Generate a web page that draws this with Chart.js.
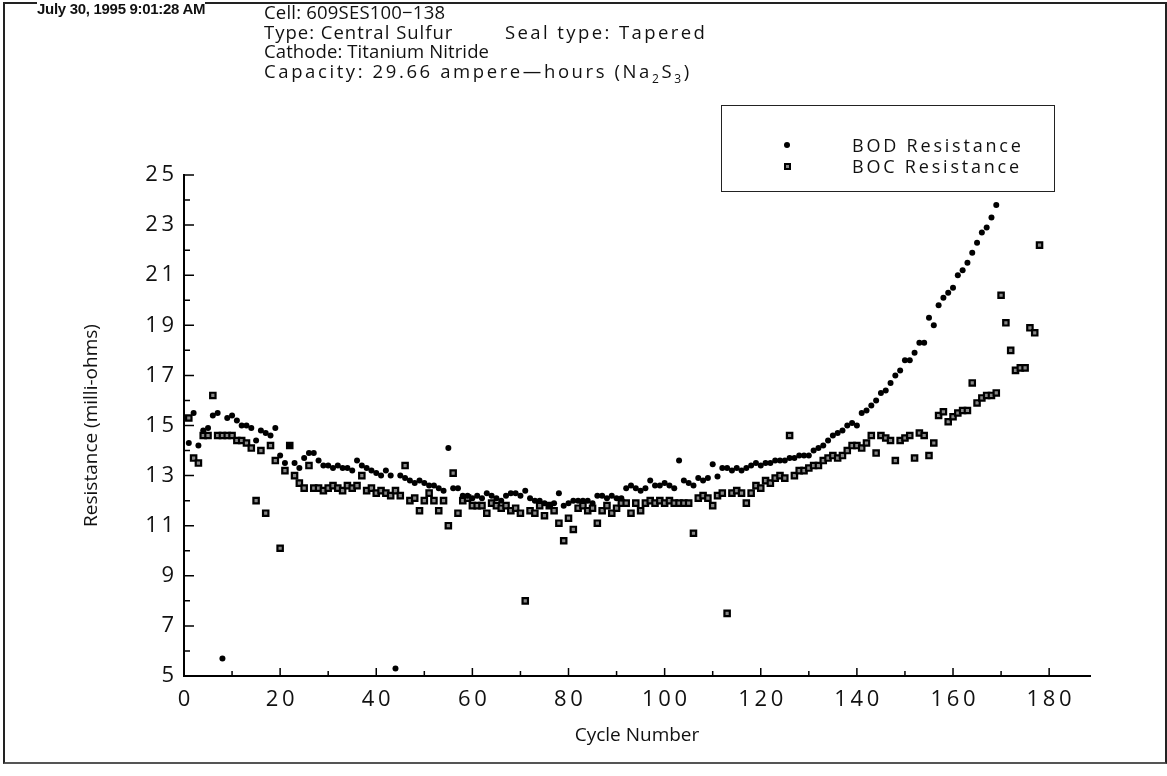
<!DOCTYPE html>
<html>
<head>
<meta charset="utf-8">
<script src="https://cdn.jsdelivr.net/npm/chart.js@4.4.1/dist/chart.umd.min.js"></script>
<style>
html,body{margin:0;padding:0;background:#fff;}
#wrap{position:relative;width:1167px;height:776px;overflow:hidden;background:#fff;}
#c{position:absolute;left:0;top:0;}
.frame{position:absolute;left:3px;top:2px;width:1160px;height:758px;border:2px solid #222;border-bottom-color:#555;}
.date{position:absolute;left:37px;top:1px;font-family:"Liberation Sans",Arial,sans-serif;font-weight:bold;font-size:15px;line-height:16px;letter-spacing:-0.3px;color:#111;background:#fff;}
.hdr{position:absolute;left:264px;font-family:"Open Sans",sans-serif;font-size:18.5px;line-height:20px;color:#111;white-space:nowrap;letter-spacing:0.5px;}
.legend{position:absolute;left:721px;top:105px;width:332px;height:85px;border:1.5px solid #222;background:#fff;}
.lg-item{position:absolute;left:130px;font-family:"Open Sans",sans-serif;font-size:18px;line-height:20px;color:#111;white-space:nowrap;letter-spacing:2.8px;}
.mk-c{position:absolute;width:6px;height:6px;border-radius:50%;background:#000;}
.mk-s{position:absolute;width:3px;height:3px;background:#888;border:2px solid #000;}
</style>
</head>
<body>
<div id="wrap">
<canvas id="c" width="1167" height="776"></canvas>
<div class="frame"></div>
<div class="date">July 30, 1995 9:01:28 AM</div>
<div class="hdr" style="top:2px;letter-spacing:0.2px;">Cell: 609SES100&#8722;138</div>
<div class="hdr" style="top:22px;letter-spacing:1px;">Type: Central Sulfur</div>
<div class="hdr" style="top:22px;left:505px;letter-spacing:2.4px;">Seal type: Tapered</div>
<div class="hdr" style="top:41px;letter-spacing:0.1px;">Cathode: Titanium Nitride</div>
<div class="hdr" style="top:61px;letter-spacing:2.6px;">Capacity: 29.66 ampere&#8212;hours (Na<sub style="font-size:12px;">2</sub>S<sub style="font-size:12px;">3</sub>)</div>
<div class="legend">
  <div class="mk-c" style="left:62px;top:36px;"></div>
  <div class="lg-item" style="top:29px;">BOD Resistance</div>
  <div class="mk-s" style="left:62px;top:57px;"></div>
  <div class="lg-item" style="top:50px;">BOC Resistance</div>
</div>
</div>
<script>
// ---- data ----
const bodCycles = [1,2,3,4,5,6,7,8,9,10,11,12,13,14,15,16,17,18,19,20,21,22,23,24,25,26,27,28,29,30,
 31,32,33,34,35,36,37,38,39,40,41,42,43,44,45,46,47,48,49,50,51,52,53,54,55,56,57,58,59,60,
 61,62,63,64,65,66,67,68,69,70,71,72,73,74,75,76,77,78,79,80,81,82,83,84,85,86,87,88,89,90,
 91,92,93,94,95,96,97,98,99,100,101,102,103,104,105,106,107,108,109,110,111,112,113,114,115,116,117,118,119,120,
 121,122,123,124,125,126,127,128,129,130,131,132,133,134,135,136,137,138,139,140,141,142,143,144,145,146,147,148,149,150,
 151,152,153,154,155,156,157,158,159,160,161,162,163,164,165,166,167,168,169];
const bodValues = [14.3,15.5,14.2,14.8,14.9,15.4,15.5,5.7,15.3,15.4,
 15.2,15.0,15.0,14.9,14.4,14.8,14.7,14.6,14.9,13.8,
 13.5,14.2,13.5,13.3,13.7,13.9,13.9,13.6,13.4,13.4,
 13.3,13.4,13.3,13.3,13.2,13.6,13.4,13.3,13.2,13.1,
 13.0,13.2,13.0,5.3,13.0,12.9,12.8,12.7,12.8,12.7,
 12.6,12.6,12.5,12.4,14.1,12.5,12.5,12.2,12.2,12.1,
 12.2,12.1,12.3,12.2,12.1,12.0,12.2,12.3,12.3,12.2,
 12.4,12.1,12.0,12.0,11.9,11.8,11.9,12.3,11.8,11.9,
 12.0,12.0,12.0,12.0,11.9,12.2,12.2,12.1,12.2,12.1,
 12.1,12.5,12.6,12.5,12.4,12.5,12.8,12.6,12.6,12.7,
 12.6,12.5,13.6,12.8,12.7,12.6,12.9,12.8,12.9,13.45,
 12.96,13.3,13.3,13.2,13.3,13.2,13.3,13.4,13.5,13.4,
 13.5,13.5,13.6,13.6,13.6,13.7,13.7,13.8,13.8,13.8,
 14.0,14.1,14.2,14.4,14.6,14.7,14.8,15.0,15.1,15.0,
 15.5,15.6,15.8,16.0,16.3,16.4,16.7,17.0,17.2,17.6,
 17.6,17.9,18.3,18.3,19.3,19.0,19.8,20.1,20.3,20.5,
 21.0,21.2,21.5,21.9,22.3,22.7,22.9,23.3,23.8];

const bocCycles = [1,2,3,4,5,6,7,8,9,10,11,12,13,14,15,16,17,18,19,20,21,22,23,24,25,26,27,28,29,30,
 31,32,33,34,35,36,37,38,39,40,41,42,43,44,45,46,47,48,49,50,51,52,53,54,55,56,57,58,59,60,
 61,62,63,64,65,66,67,68,69,70,71,72,73,74,75,76,77,78,79,80,81,82,83,84,85,86,87,88,89,90,
 91,92,93,94,95,96,97,98,99,100,101,102,103,104,105,106,107,108,109,110,111,112,113,114,115,116,117,118,119,120,
 121,122,123,124,125,126,127,128,129,130,131,132,133,134,135,136,137,138,139,140,141,142,143,144,145,146,147,148,149,150,
 151,152,153,154,155,156,157,158,159,160,161,162,163,164,165,166,167,168,169,170,171,172,173,174,175,176,177,178];
const bocValues = [15.3,13.7,13.5,14.6,14.6,16.2,14.6,14.6,14.6,14.6,
 14.4,14.4,14.3,14.1,12.0,14.0,11.5,14.2,13.6,10.1,
 13.2,14.2,13.0,12.7,12.5,13.4,12.5,12.5,12.4,12.5,
 12.6,12.5,12.4,12.6,12.5,12.6,13.0,12.4,12.5,12.3,
 12.4,12.3,12.2,12.4,12.2,13.4,12.0,12.1,11.6,12.0,
 12.3,12.0,11.6,12.0,11.0,13.1,11.5,12.0,12.1,11.8,
 11.8,11.8,11.5,11.9,11.8,11.7,11.8,11.6,11.7,11.5,
 8.0,11.6,11.5,11.8,11.4,11.8,11.6,11.1,10.4,11.3,
 10.85,11.7,11.8,11.6,11.7,11.1,11.6,11.8,11.5,11.7,
 11.9,11.9,11.5,11.9,11.6,11.9,12.0,11.9,12.0,11.9,
 12.0,11.9,11.9,11.9,11.9,10.7,12.1,12.2,12.1,11.8,
 12.2,12.3,7.5,12.3,12.4,12.3,11.9,12.3,12.6,12.5,
 12.8,12.7,12.9,13.0,12.9,14.6,13.0,13.2,13.2,13.3,
 13.4,13.4,13.6,13.7,13.8,13.7,13.8,14.0,14.2,14.2,
 14.1,14.3,14.6,13.9,14.6,14.5,14.4,13.6,14.4,14.5,
 14.6,13.7,14.7,14.6,13.8,14.3,15.4,15.55,15.15,15.35,
 15.5,15.6,15.6,16.7,15.9,16.1,16.2,16.2,16.3,20.2,
 19.1,18.0,17.2,17.3,17.3,18.9,18.7,22.2];

const xTickLabels = [0,20,40,60,80,100,120,140,160,180];
const xTickMarks = [0,10,20,30,40,50,60,70,80,90,100,110,120,130,140,150,160,170,180];
const yTickLabels = [5,7,9,11,13,15,17,19,21,23,25];
const yTickMarks = [5,6,7,8,9,10,11,12,13,14,15,16,17,18,19,20,21,22,23,24,25];
const seriesNames = ['BOD Resistance','BOC Resistance'];

const toPoints = (xs, ys) => xs.map((x, i) => ({x: x, y: ys[i]}));
const spaced = v => String(v).split('').join('\u2009');

const inwardTicks = {
  id: 'inwardTicks',
  afterDraw(chart) {
    const {ctx, chartArea: a, scales: {x, y}} = chart;
    ctx.save();
    ctx.strokeStyle = '#000';
    ctx.lineWidth = 1.5;
    ctx.beginPath();
    xTickMarks.forEach(v => {
      const px = x.getPixelForValue(v);
      const len = (v % 20 === 0) ? 8 : 5;
      ctx.moveTo(px, a.bottom); ctx.lineTo(px, a.bottom - len);
    });
    yTickMarks.forEach(v => {
      const py = y.getPixelForValue(v);
      const len = (v % 2 === 1) ? 10 : 6;
      ctx.moveTo(a.left, py); ctx.lineTo(a.left + len, py);
    });
    ctx.stroke();
    ctx.restore();
  }
};

const FONT = '"Open Sans", sans-serif';

new Chart(document.getElementById('c'), {
  type: 'scatter',
  data: {
    datasets: [
      {label: seriesNames[0], data: toPoints(bodCycles, bodValues),
       pointStyle: 'circle', pointRadius: 3, backgroundColor: '#000', borderColor: '#000', borderWidth: 0},
      {label: seriesNames[1], data: toPoints(bocCycles, bocValues),
       pointStyle: 'rect', pointRadius: 3.8, backgroundColor: '#888', borderColor: '#000', borderWidth: 2.2}
    ]
  },
  options: {
    responsive: false,
    animation: false,
    events: [],
    layout: {padding: {left: 0, top: 175, right: 77, bottom: 0}},
    plugins: {legend: {display: false}, tooltip: {enabled: false}},
    scales: {
      x: {
        type: 'linear', position: 'bottom', min: 0, max: 188.5,
        afterBuildTicks: s => { s.ticks = xTickLabels.map(v => ({value: v})); },
        afterFit: s => { s.height = 100; },
        grid: {display: false, drawTicks: false},
        border: {display: true, color: '#000', width: 2},
        ticks: {color: '#111', font: {family: FONT, size: 22}, padding: 11, maxRotation: 0, autoSkip: false, callback: spaced},
        title: {display: true, text: 'Cycle Number', color: '#111', font: {family: FONT, size: 19}, padding: {top: 0, bottom: 29}}
      },
      y: {
        type: 'linear', position: 'left', min: 5, max: 25,
        afterBuildTicks: s => { s.ticks = yTickLabels.map(v => ({value: v})); },
        afterFit: s => { s.width = 184; },
        grid: {display: false, drawTicks: false},
        border: {display: true, color: '#000', width: 2},
        ticks: {color: '#111', font: {family: FONT, size: 22}, padding: 10, autoSkip: false, callback: spaced},
        title: {display: true, text: 'Resistance (milli-ohms)', color: '#111', font: {family: FONT, size: 19}, padding: {top: 80, bottom: 0}}
      }
    }
  },
  plugins: [inwardTicks]
});
</script>
</body>
</html>
